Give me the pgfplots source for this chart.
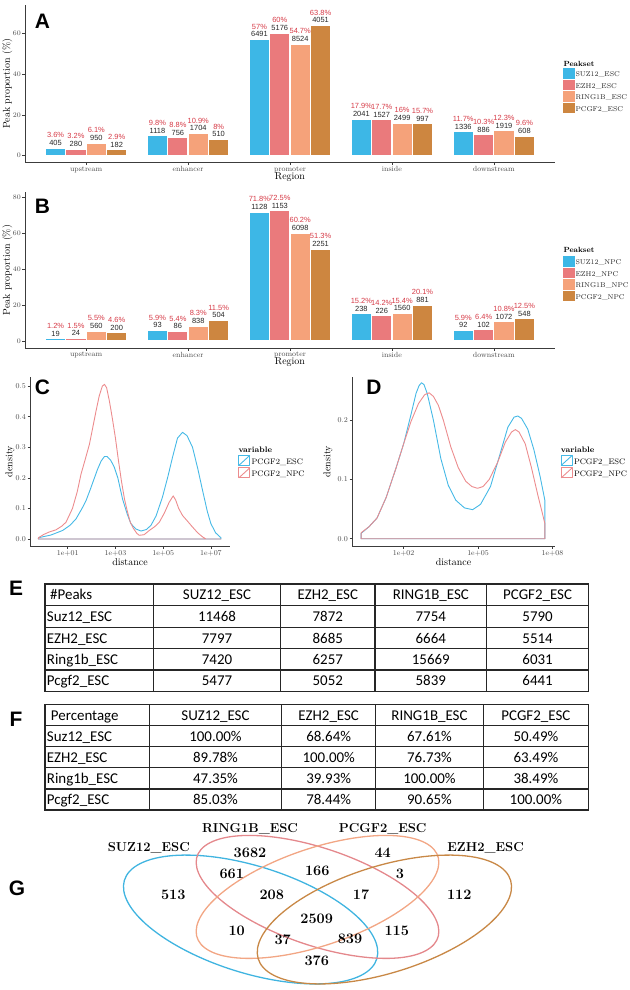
\documentclass[border=0pt]{standalone}
\usepackage{fontspec}
\usepackage{pgfplots}
\pgfplotsset{compat=1.18}
\usepackage{pgfplotstable}
\newfontfamily\arialf{Liberation Sans}
\newfontfamily\calib{Carlito}

\definecolor{csuz}{RGB}{61,183,230}
\definecolor{cezh}{RGB}{234,122,124}
\definecolor{cring}{RGB}{245,162,122}
\definecolor{cpcgf}{RGB}{205,134,64}
\definecolor{pctred}{RGB}{214,58,70}
\definecolor{dblue}{RGB}{70,185,230}
\definecolor{dred}{RGB}{236,140,142}
\definecolor{vblue}{RGB}{64,180,224}
\definecolor{vred}{RGB}{228,136,140}
\definecolor{vorange}{RGB}{242,166,132}
\definecolor{vbrown}{RGB}{200,136,70}
\definecolor{axgray}{RGB}{60,60,60}

\pgfplotstableread{
cat y1 n1 y2 n2 y3 n3 y4 n4
0 3.6 405 3.2 280 6.1 950 2.9 182
1 9.8 1118 8.8 756 10.9 1704 8 510
2 57 6491 60 5176 54.7 8524 63.8 4051
3 17.9 2041 17.7 1527 16 2499 15.7 997
4 11.7 1336 10.3 886 12.3 1919 9.6 608
}\tabA

\pgfplotstableread{
cat y1 n1 y2 n2 y3 n3 y4 n4
0 1.2 19 1.5 24 5.5 560 4.6 200
1 5.9 93 5.4 86 8.3 838 11.5 504
2 71.8 1128 72.5 1153 60.2 6098 51.3 2251
3 15.2 238 14.2 226 15.4 1560 20.1 881
4 5.9 92 6.4 102 10.8 1072 12.5 548
}\tabB

\pgfplotsset{
  ggaxis/.style={scale only axis, anchor=south west, clip=false,
    axis lines*=left,
    axis line style={axgray, line width=0.6bp},
    every tick/.style={axgray, line width=0.5bp},
    tick align=outside, major tick length=2.5bp,
    xtick pos=bottom, ytick pos=left,
    ticklabel style={font=\fontsize{7.5}{9}\selectfont, text=black!70, inner sep=1.5bp},
    label style={font=\fontsize{10}{12}\selectfont, inner sep=0pt},
    legend cell align=left,
    legend style={draw=none, fill=none, anchor=north west, inner sep=0pt, outer sep=0pt,
      row sep=0pt, column sep=1.5bp, font=\fontsize{8}{9.3}\selectfont,
      nodes={inner sep=0pt, text height=6.3bp, text depth=3bp}},
  },
  barlegend/.style={legend style={font=\fontsize{7}{9.3}\selectfont, text=black!85, column sep=1bp}},
  mybar/.style={ybar, bar width=0.2, bar shift=0pt, fill=#1, draw=white, line width=1.2bp,
    point meta=explicit symbolic, nodes near coords,
    every node near coord/.append style={anchor=center, yshift=5bp, font=\arialf\fontsize{7.5}{8}\selectfont, text=black!85, fill=none, draw=none, inner sep=0pt},
    legend image code/.code={\fill[#1] (0bp,-3bp) rectangle (10bp,6.3bp);}},
  pctlab/.style={draw=none, mark=none, point meta=explicit symbolic, nodes near coords={\pgfplotspointmeta\%},
    every node near coord/.append style={anchor=center, yshift=12.8bp, font=\arialf\fontsize{7.5}{8}\selectfont, text=pctred, fill=none, draw=none, inner sep=0pt}},
  dens/.style={line width=0.9bp, line join=round, mark=none,
    legend image code/.code={\draw[##1] (0bp,-3bp) rectangle (11bp,7bp); \draw[##1] (0bp,-3bp) -- (11bp,7bp);}},
}

\newcommand{\barser}[6]{%
  \addplot[mybar=#5] table[x expr=\thisrow{cat}#4, y=#2, meta=#3]{#1};
  \addlegendentry{#6}
  \addplot[pctlab, forget plot] table[x expr=\thisrow{cat}#4, y=#2, meta=#2]{#1};
}

\tikzset{tb/.style={font=\calib\fontsize{15}{18}\selectfont, inner sep=0pt, text height=10bp, text depth=0pt},
  plab/.style={font=\arialf\bfseries\fontsize{21}{21}\selectfont, inner sep=0pt, anchor=center},
  vnum/.style={font=\bfseries\fontsize{14.5}{16}\selectfont, inner sep=0pt, anchor=center},
  vlab/.style={font=\bfseries\fontsize{13}{15}\selectfont, inner sep=0pt, anchor=center, text depth=0pt}}

\newcommand{\erow}[6]{%
  \node[tb,anchor=west] at (46.7,-#1) {#2};
  \node[tb] at (217,-#1) {#3}; \node[tb] at (327.8,-#1) {#4};
  \node[tb] at (430.8,-#1) {#5}; \node[tb] at (537.6,-#1) {#6};}
\newcommand{\frow}[6]{%
  \node[tb,anchor=west] at (46.7,-#1) {#2};
  \node[tb] at (215.5,-#1) {#3}; \node[tb] at (328.7,-#1) {#4};
  \node[tb] at (429.5,-#1) {#5}; \node[tb] at (535.9,-#1) {#6};}

\begin{document}
\begin{tikzpicture}[x=1bp, y=1bp]
\path[use as bounding box] (0,0) rectangle (630,-990);

% ---------------- A
\begin{axis}[ggaxis, barlegend, at={(25bp,-162.5bp)}, width=530bp, height=157.5bp,
  xmin=-0.6, xmax=4.6, ymin=-3.4, ymax=73.8,
  xtick={0,1,2,3,4}, xticklabels={upstream,enhancer,promoter,inside,downstream},
  ytick={0,20,40,60},
  xlabel={Region}, ylabel={Peak proportion (\%)},
  xlabel style={at={(axis description cs:0.5,-0.0921)}, anchor=center},
  ylabel style={at={(axis description cs:-0.033,0.5)}, anchor=center},
  legend style={at={(1.0157,0.598)}}]
\barser{\tabA}{y1}{n1}{-0.3}{csuz}{SUZ12\_ESC}
\barser{\tabA}{y2}{n2}{-0.1}{cezh}{EZH2\_ESC}
\barser{\tabA}{y3}{n3}{+0.1}{cring}{RING1B\_ESC}
\barser{\tabA}{y4}{n4}{+0.3}{cpcgf}{PCGF2\_ESC}
\node[anchor=west, inner sep=0pt, font=\bfseries\fontsize{7.5}{9}\selectfont] at (axis description cs:1.0157,0.625) {Peakset};
\end{axis}

% ---------------- B
\begin{axis}[ggaxis, barlegend, at={(25bp,-348bp)}, width=530bp, height=156bp,
  xmin=-0.6, xmax=4.6, ymin=-3.9, ymax=83,
  xtick={0,1,2,3,4}, xticklabels={upstream,enhancer,promoter,inside,downstream},
  ytick={0,20,40,60,80},
  xlabel={Region}, ylabel={Peak proportion (\%)},
  xlabel style={at={(axis description cs:0.5,-0.0917)}, anchor=center},
  ylabel style={at={(axis description cs:-0.033,0.5)}, anchor=center},
  legend style={at={(1.0157,0.5897)}}]
\barser{\tabB}{y1}{n1}{-0.3}{csuz}{SUZ12\_NPC}
\barser{\tabB}{y2}{n2}{-0.1}{cezh}{EZH2\_NPC}
\barser{\tabB}{y3}{n3}{+0.1}{cring}{RING1B\_NPC}
\barser{\tabB}{y4}{n4}{+0.3}{cpcgf}{PCGF2\_NPC}
\node[anchor=west, inner sep=0pt, font=\bfseries\fontsize{7.5}{9}\selectfont] at (axis description cs:1.0157,0.628) {Peakset};
\end{axis}

% ---------------- C
\begin{axis}[ggaxis, at={(30bp,-546bp)}, width=200bp, height=169bp,
  xmin=-0.58, xmax=7.8, ymin=-0.023, ymax=0.53,
  xtick={1,3,5,7}, xticklabels={1e+01,1e+03,1e+05,1e+07},
  ytick={0,0.1,0.2,0.3,0.4,0.5}, yticklabels={0.0,0.1,0.2,0.3,0.4,0.5},
  xlabel={distance}, ylabel={density},
  xlabel style={at={(axis description cs:0.5,-0.0976)}, anchor=center},
  ylabel style={at={(axis description cs:-0.1,0.5)}, anchor=center},
  legend style={at={(1.0415,0.5385)}, nodes={text height=7bp, text depth=3bp}}]
\addplot[dens, dblue] coordinates {
(-0.23,0.004) (0.3,0.013) (0.79,0.028) (1.1,0.045) (1.35,0.066) (1.6,0.1) (1.77,0.126)
(1.95,0.163) (2.12,0.2) (2.25,0.228) (2.4,0.255) (2.54,0.27) (2.65,0.27) (2.8,0.258)
(2.95,0.235) (3.1,0.2) (3.3,0.13) (3.5,0.08) (3.65,0.05) (3.85,0.033) (4.07,0.026)
(4.3,0.031) (4.49,0.045) (4.7,0.075) (4.97,0.137) (5.2,0.205) (5.39,0.267) (5.6,0.33)
(5.81,0.349) (6.0,0.338) (6.23,0.3) (6.45,0.23) (6.65,0.159) (6.85,0.09) (7.0,0.05)
(7.2,0.02) (7.42,0.004) (7.42,0) (-0.23,0) (-0.23,0.004)};
\addlegendentry{PCGF2\_ESC}
\addplot[dens, dred] coordinates {
(-0.23,0.004) (0.0,0.015) (0.23,0.023) (0.51,0.03) (0.75,0.042) (0.93,0.055) (1.2,0.1)
(1.4,0.155) (1.56,0.213) (1.75,0.265) (1.91,0.31) (2.05,0.365) (2.19,0.42) (2.32,0.468)
(2.45,0.5) (2.54,0.506) (2.63,0.495) (2.75,0.45) (2.88,0.39) (3.0,0.33) (3.12,0.26)
(3.25,0.19) (3.38,0.13) (3.5,0.09) (3.62,0.055) (3.75,0.035) (3.9,0.018) (4.0,0.012)
(4.2,0.014) (4.42,0.028) (4.64,0.04) (4.84,0.055) (5.05,0.085) (5.25,0.12) (5.42,0.141)
(5.52,0.128) (5.65,0.1) (5.81,0.077) (6.0,0.06) (6.23,0.039) (6.45,0.02) (6.65,0.007)
(6.79,0) (7.42,0) (-0.23,0) (-0.23,0.004)};
\addlegendentry{PCGF2\_NPC}
\node[anchor=west, inner sep=0pt, font=\bfseries\fontsize{8}{9}\selectfont] at (axis description cs:1.0415,0.572) {variable};
\end{axis}

% ---------------- D
\begin{axis}[ggaxis, at={(352bp,-546bp)}, width=203bp, height=169bp,
  xmin=-0.08, xmax=8.1, ymin=-0.0123, ymax=0.2727,
  xtick={2,5,8}, xticklabels={1e+02,1e+05,1e+08},
  ytick={0,0.1,0.2}, yticklabels={0.0,0.1,0.2},
  xlabel={distance}, ylabel={density},
  xlabel style={at={(axis description cs:0.5,-0.0976)}, anchor=center},
  ylabel style={at={(axis description cs:-0.118,0.5)}, anchor=center},
  legend style={at={(1.028,0.5385)}, nodes={text height=7bp, text depth=3bp}}]
\addplot[dens, dblue] coordinates {
(0.285,0.009) (0.6,0.02) (0.93,0.035) (1.3,0.07) (1.7,0.12) (2.0,0.16) (2.3,0.21)
(2.5,0.245) (2.62,0.258) (2.72,0.263) (2.82,0.26) (2.95,0.245) (3.2,0.2) (3.5,0.135)
(3.8,0.09) (4.1,0.065) (4.45,0.052) (4.78,0.049) (5.1,0.058) (5.5,0.088) (5.9,0.145)
(6.2,0.188) (6.45,0.205) (6.6,0.207) (6.75,0.203) (7.0,0.185) (7.25,0.15) (7.5,0.105)
(7.69,0.065) (7.69,0) (0.285,0) (0.285,0.009)};
\addlegendentry{PCGF2\_ESC}
\addplot[dens, dred] coordinates {
(0.285,0.01) (0.6,0.02) (0.93,0.035) (1.3,0.07) (1.7,0.12) (2.0,0.16) (2.3,0.198)
(2.6,0.228) (2.85,0.243) (3.03,0.246) (3.2,0.24) (3.4,0.225) (3.6,0.2) (3.9,0.155)
(4.2,0.12) (4.5,0.097) (4.75,0.088) (4.98,0.085) (5.2,0.088) (5.45,0.1) (5.8,0.13)
(6.1,0.163) (6.35,0.18) (6.5,0.184) (6.65,0.18) (6.9,0.16) (7.15,0.12) (7.4,0.075)
(7.69,0.026) (7.69,0) (0.285,0) (0.285,0.01)};
\addlegendentry{PCGF2\_NPC}
\node[anchor=west, inner sep=0pt, font=\bfseries\fontsize{8}{9}\selectfont] at (axis description cs:1.028,0.568) {variable};
\end{axis}

% ---------------- panel letters
\node[plab] at (42.5,-21.7) {A};
\node[plab] at (42.5,-206) {B};
\node[plab] at (42.5,-387.5) {C};
\node[plab] at (374,-387.5) {D};
\node[plab] at (16,-588) {E};
\node[plab] at (16,-719) {F};
\node[plab] at (17,-888.3) {G};

% ---------------- table E
\begin{scope}[line width=1.1bp, black!85]
\draw (45,-584) rectangle (588.5,-691.7);
\foreach \yy in {605.7,627.3,648.7,670} \draw (45,-\yy) -- (588.5,-\yy);
\foreach \xx in {153.3,280.7,375,486.7} \draw (\xx,-584) -- (\xx,-691.7);
\end{scope}
\node[tb,anchor=west] at (50,-594.8) {\#Peaks};
\node[tb] at (217,-594.8) {SUZ12\_ESC}; \node[tb] at (327.8,-594.8) {EZH2\_ESC};
\node[tb] at (430.8,-594.8) {RING1B\_ESC}; \node[tb] at (537.6,-594.8) {PCGF2\_ESC};
\erow{616.5}{Suz12\_ESC}{11468}{7872}{7754}{5790}
\erow{638}{EZH2\_ESC}{7797}{8685}{6664}{5514}
\erow{659.3}{Ring1b\_ESC}{7420}{6257}{15669}{6031}
\erow{680.8}{Pcgf2\_ESC}{5477}{5052}{5839}{6441}

% ---------------- table F
\begin{scope}[line width=1.1bp, black!85]
\draw (45,-704.3) rectangle (588.5,-810);
\foreach \yy in {725.7,746.7,767.7,789} \draw (45,-\yy) -- (588.5,-\yy);
\foreach \xx in {149.3,281.7,375.7,483.3} \draw (\xx,-704.3) -- (\xx,-810);
\end{scope}
\node[tb,anchor=west] at (50.7,-715) {Percentage};
\node[tb] at (215.5,-715) {SUZ12\_ESC}; \node[tb] at (328.7,-715) {EZH2\_ESC};
\node[tb] at (429.5,-715) {RING1B\_ESC}; \node[tb] at (535.9,-715) {PCGF2\_ESC};
\frow{736.2}{Suz12\_ESC}{100.00\%}{68.64\%}{67.61\%}{50.49\%}
\frow{757.2}{EZH2\_ESC}{89.78\%}{100.00\%}{76.73\%}{63.49\%}
\frow{778.3}{Ring1b\_ESC}{47.35\%}{39.93\%}{100.00\%}{38.49\%}
\frow{799.5}{Pcgf2\_ESC}{85.03\%}{78.44\%}{90.65\%}{100.00\%}

% ---------------- Venn G
\begin{scope}[shift={(317.5,-919.5)}, xscale=446, yscale=226, line width=1.3bp]
\draw[vblue, rotate around={-45:(-0.15,0)}] (-0.15,0) ellipse [x radius=0.35, y radius=0.2];
\draw[vred, rotate around={-45:(0,0.1)}] (0,0.1) ellipse [x radius=0.34, y radius=0.18];
\draw[vorange, rotate around={45:(0,0.1)}] (0,0.1) ellipse [x radius=0.34, y radius=0.18];
\draw[vbrown, rotate around={45:(0.15,0)}] (0.15,0) ellipse [x radius=0.35, y radius=0.2];
\end{scope}
\node[vlab] at (148.8,-847.3) {SUZ12\_ESC};
\node[vlab] at (250,-828.3) {RING1B\_ESC};
\node[vlab] at (382.7,-828.3) {PCGF2\_ESC};
\node[vlab] at (485.6,-847.3) {EZH2\_ESC};
\node[vnum] at (250,-852.7) {3682};
\node[vnum] at (382.7,-852.7) {44};
\node[vnum] at (231.7,-874.3) {661};
\node[vnum] at (317.3,-871) {166};
\node[vnum] at (400,-874.3) {3};
\node[vnum] at (173.3,-895) {513};
\node[vnum] at (271.7,-895) {208};
\node[vnum] at (361,-895) {17};
\node[vnum] at (459.3,-895) {112};
\node[vnum] at (316.7,-919) {2509};
\node[vnum] at (236.7,-930.7) {10};
\node[vnum] at (396.7,-930.7) {115};
\node[vnum] at (282.7,-939.3) {37};
\node[vnum] at (350,-939.3) {839};
\node[vnum] at (316.7,-961) {376};
\end{tikzpicture}
\end{document}
